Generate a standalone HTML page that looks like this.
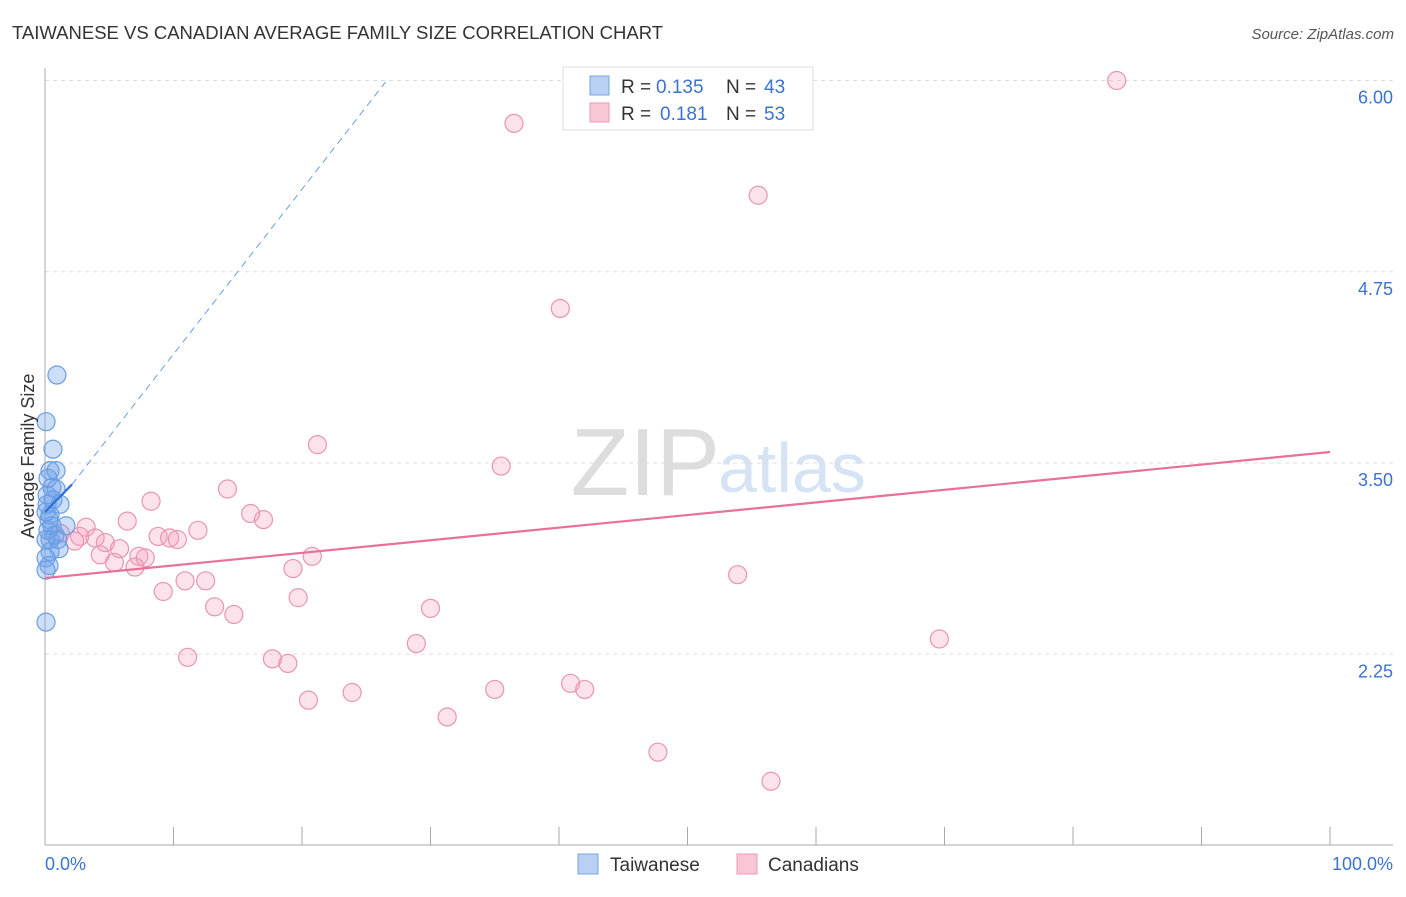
<!DOCTYPE html>
<html><head><meta charset="utf-8"><style>
body{margin:0;background:#fff;font-family:"Liberation Sans",sans-serif}
svg text{font-family:"Liberation Sans",sans-serif}
</style></head><body>
<svg id="c" width="1406" height="892" xmlns="http://www.w3.org/2000/svg">
<text x="12" y="39" font-size="18.5" fill="#333">TAIWANESE VS CANADIAN AVERAGE FAMILY SIZE CORRELATION CHART</text>
<text x="1394" y="39" font-size="15" fill="#555" font-style="italic" text-anchor="end">Source: ZipAtlas.com</text>
<text x="720" y="495" font-size="96" fill="#ddd" font-family="Liberation Serif" text-anchor="end">ZIP</text>
<text x="718" y="492" font-size="70" fill="#d6e3f5">atlas</text>
<g id="grid"></g><g id="axes"></g><g id="marks"></g>
<text x="34" y="456" font-size="18" fill="#333" text-anchor="middle" transform="rotate(-90 34 456)">Average Family Size</text>
<g>
<rect x="563" y="67" width="250" height="63" fill="#fff" stroke="#ddd"/>
<rect x="590" y="76" width="19" height="19" fill="#b9d0f5" stroke="#7aa5e6"/>
<rect x="590" y="103" width="19" height="19" fill="#f9c6d6" stroke="#eb98b4"/>
<text y="93" font-size="19" fill="#333"><tspan x="621">R =</tspan><tspan x="656" fill="#3b73d1">0.135</tspan><tspan x="726">N =</tspan><tspan x="764" fill="#3b73d1">43</tspan></text>
<text y="120" font-size="19" fill="#333"><tspan x="621">R =</tspan><tspan x="660" fill="#3b73d1">0.181</tspan><tspan x="726">N =</tspan><tspan x="764" fill="#3b73d1">53</tspan></text>
</g>
<g>
<rect x="578" y="854" width="20" height="20" fill="#b9d0f5" stroke="#7aa5e6"/>
<text x="610" y="871" font-size="19" fill="#333">Taiwanese</text>
<rect x="737" y="854" width="20" height="20" fill="#f9c6d6" stroke="#eb98b4"/>
<text x="768" y="871" font-size="19" fill="#333">Canadians</text>
</g>
<text x="45" y="870" font-size="18" fill="#3b73d1">0.0%</text>
<text x="1393" y="870" font-size="18" fill="#3b73d1" text-anchor="end">100.0%</text>
</svg>
<script>
const yTicks=[6.00,4.75,3.50,2.25];
const yTickLabels=["6.00","4.75","3.50","2.25"];
const blueX=[0.93,0.08,0.62,0.39,0.86,0.23,0.54,0.86,1.17,0.16,0.39,0.31,0.54,1.63,0.23,0.78,0.39,0.08,1.09,0.39,0.08,0.31,0.08,0.08,0.16,0.62,0.08,1.0];
const blueY=[4.075,3.77,3.59,3.45,3.45,3.40,3.34,3.33,3.23,3.23,3.16,3.13,3.09,3.09,3.06,3.03,3.00,3.00,2.94,2.92,2.88,2.83,2.80,2.46,3.29,3.26,3.18,3.0];
const pinkX=[83.4,36.5,55.5,40.1,21.2,35.5,14.2,8.25,16.0,17.0,6.4,3.2,11.9,1.2,2.7,8.8,9.7,10.3,3.9,4.7,2.3,5.8,4.3,7.3,7.8,20.8,5.4,7.0,19.3,53.9,10.9,12.5,9.2,19.7,13.2,30.0,14.7,28.9,69.6,11.1,17.7,18.9,40.9,42.0,35.0,23.9,20.5,31.3,47.7,56.5];
const pinkY=[6.0,5.72,5.25,4.51,3.62,3.48,3.33,3.25,3.17,3.13,3.12,3.08,3.06,3.04,3.02,3.02,3.01,3.00,3.01,2.98,2.99,2.94,2.90,2.89,2.88,2.89,2.85,2.82,2.81,2.77,2.73,2.73,2.66,2.62,2.56,2.55,2.51,2.32,2.35,2.23,2.22,2.19,2.06,2.02,2.02,2.00,1.95,1.84,1.61,1.42];
const blueTrend=[[0,3.18],[2.1,3.36]];
const blueDash=[[2.1,3.36],[26.5,5.99]];
const pinkTrend=[[0,2.748],[100,3.572]];
const NS="http://www.w3.org/2000/svg";
const X=v=>45+v*12.85, Y=v=>463-(v-3.5)*153;
function mk(t,a,p){const e=document.createElementNS(NS,t);for(const k in a)e.setAttribute(k,a[k]);p.appendChild(e);return e;}
const grid=document.getElementById('grid'),axes=document.getElementById('axes'),marks=document.getElementById('marks');
yTicks.forEach((t,i)=>{
 const l=mk('line',{x1:45,x2:1393,y1:Y(t),y2:Y(t),stroke:'#ddd','stroke-dasharray':'4 4'},grid);
 
 
 const tx=mk('text',{x:1393,y:Y(t)+23,'font-size':18,fill:'#3b73d1','text-anchor':'end'},grid);
 tx.textContent=yTickLabels[i];
 
 
});
let a=mk('line',{x1:45,x2:45,y1:68,y2:845,stroke:'#aaa'},axes);


a=mk('line',{x1:45,x2:1393,y1:845,y2:845,stroke:'#aaa'},axes);


for(let i=0;i<=10;i++){const t=mk('line',{x1:X(i*10),x2:X(i*10),y1:827,y2:845,stroke:'#aaa'},axes);
 
 }
function pts(xs,ys,fill,stroke,name){xs.forEach((x,i)=>{const c=mk('circle',{cx:X(x),cy:Y(ys[i]),r:9,fill:fill,stroke:stroke,'stroke-width':1.2},marks);
 
 });}
pts(pinkX,pinkY,'rgba(244,160,188,0.3)','#e994b1','canadians-point');
pts(blueX,blueY,'rgba(110,160,235,0.35)','#6a9ee0','taiwanese-point');
let ln=mk('line',{x1:X(pinkTrend[0][0]),y1:Y(pinkTrend[0][1]),x2:X(pinkTrend[1][0]),y2:Y(pinkTrend[1][1]),stroke:'#e8709a','stroke-width':2.2},marks);


ln=mk('line',{x1:X(blueDash[0][0]),y1:Y(blueDash[0][1]),x2:X(blueDash[1][0]),y2:Y(blueDash[1][1]),stroke:'#6a9ee0','stroke-width':1,'stroke-dasharray':'7 5'},marks);


ln=mk('line',{x1:X(blueTrend[0][0]),y1:Y(blueTrend[0][1]),x2:X(blueTrend[1][0]),y2:Y(blueTrend[1][1]),stroke:'#2f6fd6','stroke-width':2.2},marks);


</script>
</body></html>
